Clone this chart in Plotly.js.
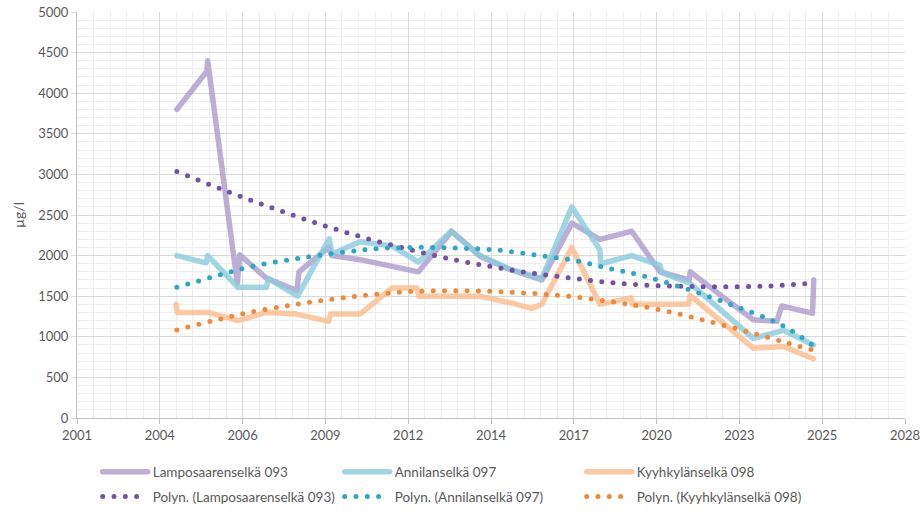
<!DOCTYPE html>
<html><head><meta charset="utf-8">
<script src="https://cdn.plot.ly/plotly-3.0.1.min.js"></script>
<style>
html,body{margin:0;padding:0;background:#fff;}
#chart{width:922px;height:515px;}
.js-line{stroke-linecap:round !important;stroke-linejoin:round !important;}
</style></head><body><div id="chart"></div>
<script>
// Series names
const seriesNames = ['Lamposaarenselkä 093', 'Annilanselkä 097', 'Kyyhkylänselkä 098'];
const trendNames = ['Polyn. (Lamposaarenselkä 093)', 'Polyn. (Annilanselkä 097)', 'Polyn. (Kyyhkylänselkä 098)'];

// Observations (decimal year, µg/l)
const lampX = [2004.58, 2005.57, 2005.60, 2006.58, 2006.66, 2007.55, 2008.55, 2008.62, 2009.60, 2009.70, 2010.64, 2011.69, 2012.57, 2013.67, 2014.61, 2015.60, 2016.65, 2017.64, 2018.57, 2019.62, 2020.56, 2021.52, 2021.56, 2022.60, 2023.64, 2024.42, 2024.58, 2025.60, 2025.64];
const lampY = [3800, 4270, 4400, 1660, 2010, 1720, 1570, 1800, 2100, 2000, 1950, 1870, 1800, 2300, 1990, 1830, 1700, 2400, 2200, 2300, 1800, 1700, 1800, 1500, 1210, 1190, 1380, 1290, 1700];

const anniX = [2004.58, 2005.55, 2005.60, 2006.60, 2007.55, 2007.60, 2008.57, 2009.62, 2009.70, 2010.64, 2011.69, 2012.57, 2013.65, 2014.61, 2015.60, 2016.65, 2017.64, 2018.57, 2018.60, 2019.62, 2020.56, 2020.62, 2021.55, 2022.60, 2023.64, 2024.64, 2025.63];
const anniY = [2000, 1910, 2000, 1610, 1610, 1720, 1500, 2210, 2020, 2170, 2120, 1920, 2300, 2000, 1830, 1720, 2600, 2070, 1900, 2000, 1880, 1790, 1660, 1320, 980, 1080, 900];

const kyyhX = [2004.55, 2004.60, 2005.60, 2006.60, 2007.55, 2008.55, 2009.60, 2009.66, 2010.64, 2011.69, 2012.52, 2012.58, 2013.67, 2014.61, 2015.60, 2016.30, 2016.65, 2017.64, 2018.57, 2019.60, 2019.64, 2020.56, 2021.50, 2021.55, 2022.60, 2023.64, 2024.64, 2025.63];
const kyyhY = [1400, 1300, 1300, 1200, 1300, 1280, 1190, 1280, 1280, 1600, 1600, 1500, 1500, 1500, 1420, 1350, 1400, 2100, 1400, 1480, 1400, 1400, 1400, 1510, 1180, 860, 880, 730];

// Trend lines
const lampTX = [2004.58, 2006.12, 2007.62, 2009.11, 2010.64, 2012.24, 2013.78, 2015.00, 2016.20, 2017.42, 2018.63, 2019.90, 2021.20, 2022.47, 2024.20, 2025.60];
const lampTY = [3035, 2808, 2603, 2410, 2235, 2077, 1946, 1863, 1790, 1733, 1679, 1640, 1622, 1617, 1626, 1662];
const anniTX = [2004.58, 2005.79, 2006.94, 2008.54, 2010.20, 2011.41, 2012.68, 2013.95, 2015.16, 2016.43, 2017.64, 2018.85, 2020.01, 2021.55, 2023.09, 2024.58, 2025.63];
const anniTY = [1610, 1740, 1856, 1962, 2048, 2090, 2102, 2090, 2069, 2007, 1946, 1843, 1749, 1576, 1371, 1145, 890];
const kyyhTX = [2004.58, 2005.79, 2006.98, 2008.16, 2008.96, 2010.58, 2012.29, 2013.95, 2015.65, 2017.31, 2018.96, 2020.12, 2021.33, 2022.49, 2023.64, 2024.80, 2025.60];
const kyyhTY = [1085, 1198, 1301, 1379, 1425, 1502, 1556, 1568, 1548, 1506, 1432, 1363, 1268, 1158, 1043, 920, 837];

// decimal year -> ISO date
function yr(d) {
  const y = Math.floor(d);
  const s = Date.UTC(y, 0, 1), e = Date.UTC(y + 1, 0, 1);
  return new Date(s + (d - y) * (e - s)).toISOString().slice(0, 10);
}

const solidColors = ['rgba(172,154,204,0.8)', 'rgba(138,203,220,0.8)', 'rgba(250,188,140,0.8)'];
const dotColors = ['#7451a3', '#2fa6c4', '#f08a3a'];
const font = {family: 'Lato, "Open Sans", sans-serif', size: 13, color: '#595959'};
const legFont = {family: 'Lato, "Open Sans", sans-serif', size: 13.5, color: '#595959'};

function solid(xs, ys, i) {
  return {x: xs.map(yr), y: ys, type: 'scatter', mode: 'lines', name: seriesNames[i],
    line: {color: solidColors[i], width: 5.5}, legend: 'legend', hoverinfo: 'skip'};
}
function trend(xs, ys, i) {
  return {x: xs.map(yr), y: ys, type: 'scatter', mode: 'lines', name: trendNames[i],
    line: {color: dotColors[i], width: 5, dash: '0px,11.3px', shape: 'spline', smoothing: 1},
    legend: 'legend2', hoverinfo: 'skip'};
}

const data = [
  solid(lampX, lampY, 0), solid(anniX, anniY, 1), solid(kyyhX, kyyhY, 2),
  trend(lampTX, lampTY, 0), trend(anniTX, anniTY, 1), trend(kyyhTX, kyyhTY, 2)
];

const DAY = 86400000;
const layout = {
  width: 922, height: 515,
  margin: {l: 77, r: 17, t: 12, b: 97, autoexpand: false},
  paper_bgcolor: '#fff', plot_bgcolor: '#fff',
  font: font,
  showlegend: true,
  xaxis: {
    type: 'date', range: ['2001-04-12', '2028-08-28'],
    tick0: '2001-04-12', dtick: 1000 * DAY, tickformat: '%Y',
    ticks: 'outside', ticklen: 5, tickcolor: '#bfbfbf',
    showline: true, linecolor: '#bfbfbf', linewidth: 1,
    gridcolor: '#d9d9d9', gridwidth: 1,
    minor: {tick0: '2001-04-12', dtick: 200 * DAY, showgrid: true, gridcolor: '#eeeeee', gridwidth: 1},
    tickfont: {size: 13, color: '#595959'},
    fixedrange: true
  },
  yaxis: {
    range: [0, 5000], dtick: 500, tick0: 0,
    ticks: 'outside', ticklen: 5, tickcolor: '#d9d9d9',
    showline: true, linecolor: '#bfbfbf', linewidth: 1,
    gridcolor: '#d9d9d9', gridwidth: 1, zeroline: false,
    minor: {dtick: 100, showgrid: true, gridcolor: '#eeeeee', gridwidth: 1},
    tickfont: {size: 13, color: '#595959'},
    title: {text: 'µg/l', font: {size: 14, color: '#595959'}, standoff: 10},
    fixedrange: true
  },
  legend: {orientation: 'h', x: 0.025, xanchor: 'left', y: -0.095, yanchor: 'top',
    entrywidth: 182, entrywidthmode: 'pixels', font: legFont, bgcolor: 'rgba(0,0,0,0)', itemwidth: 45},
  legend2: {orientation: 'h', x: 0.025, xanchor: 'left', y: -0.156, yanchor: 'top',
    entrywidth: 182, entrywidthmode: 'pixels', font: legFont, bgcolor: 'rgba(0,0,0,0)', itemwidth: 45}
};

Plotly.newPlot('chart', data, layout, {displayModeBar: false, staticPlot: true});
</script></body></html>
